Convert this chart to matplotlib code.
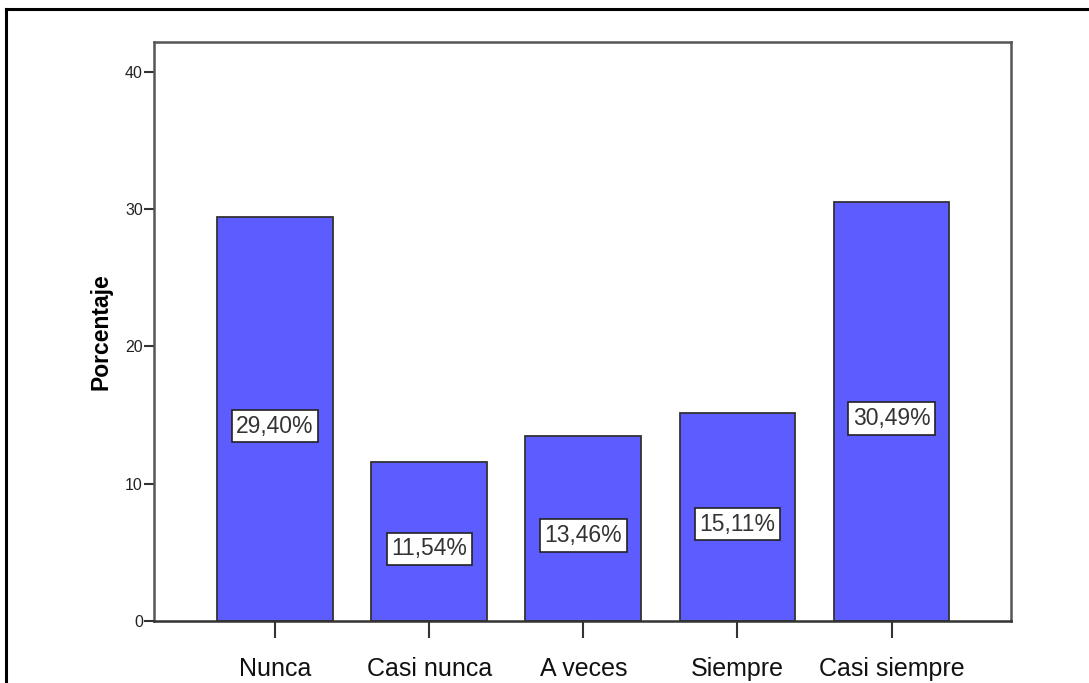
import matplotlib.pyplot as plt
import matplotlib.lines as lines

plt.rcParams['font.family'] = ['Liberation Sans', 'DejaVu Sans']

# categories and percentages
categorias = ['Nunca', 'Casi nunca', 'A veces', 'Siempre', 'Casi siempre']
porcentajes = [29.40, 11.54, 13.46, 15.11, 30.49]
etiquetas = ['29,40%', '11,54%', '13,46%', '15,11%', '30,49%']
yticks = [0, 10, 20, 30, 40]

W, H = 1089, 683
fig = plt.figure(figsize=(W / 100, H / 100), dpi=100)

# axes box in pixel coords: left 154, right 1011, top 42, bottom 621
left, right, top, bottom = 154, 1011, 42, 621
ax = fig.add_axes([left / W, 1 - bottom / H, (right - left) / W, (bottom - top) / H])

x = range(len(categorias))
ax.bar(x, porcentajes, width=0.75, color='#5c5cff', edgecolor='#333333', linewidth=1.3, zorder=2)

# value boxes sit a little below the middle of each bar
for i in x:
    ax.annotate(etiquetas[i], (i, porcentajes[i] / 2), xytext=(0, -5), textcoords='offset points',
                ha='center', va='center', fontsize=16.5, color='#333333', zorder=3,
                bbox=dict(boxstyle='square,pad=0.2', facecolor='white', edgecolor='#222222', linewidth=1.2))

ax.set_xlim(-0.785, 4.775)
ax.set_ylim(0, 42.15)
ax.set_yticks(yticks)
ax.set_yticklabels([str(t) for t in yticks], fontsize=11.5, color='#222222')
ax.set_xticks(list(x))
ax.set_xticklabels(categorias, fontsize=18, color='#111111')
ax.tick_params(axis='x', length=12, width=1.5, color='#333333', pad=14)
ax.tick_params(axis='y', length=7, width=1.5, color='#333333', pad=1)
ax.set_ylabel('Porcentaje', fontsize=16.5, fontweight='bold', labelpad=9)

for s in ax.spines.values():
    s.set_color('#555555')
    s.set_linewidth(1.8)
ax.spines['bottom'].set_color('#333333')

# outer frame: top and left edges only
fig.add_artist(lines.Line2D([6 / W, 1], [1 - 9 / H, 1 - 9 / H], color='black', linewidth=2.2,
                            transform=fig.transFigure))
fig.add_artist(lines.Line2D([6 / W, 6 / W], [0, 1 - 9 / H], color='black', linewidth=2.2,
                            transform=fig.transFigure))

fig.savefig('out.png', dpi=100)
